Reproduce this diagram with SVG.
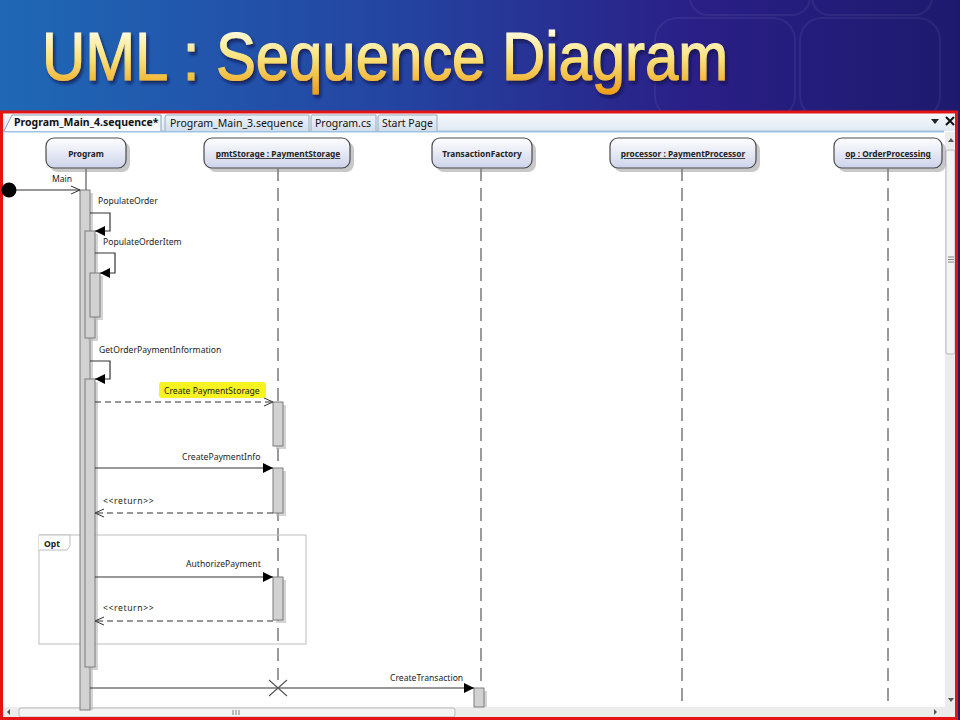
<svg xmlns="http://www.w3.org/2000/svg" width="960" height="720" viewBox="0 0 960 720">
<defs>
<linearGradient id="bg" x1="0" y1="0" x2="1" y2="0">
<stop offset="0" stop-color="#1f68b6"/>
<stop offset="0.4" stop-color="#2445a2"/>
<stop offset="0.72" stop-color="#2a1f86"/>
<stop offset="1" stop-color="#1d1a6e"/>
</linearGradient>
<linearGradient id="titleg" gradientUnits="userSpaceOnUse" x1="0" y1="30" x2="0" y2="92">
<stop offset="0" stop-color="#fffce0"/>
<stop offset="0.45" stop-color="#fbe27a"/>
<stop offset="1" stop-color="#eea21c"/>
</linearGradient>
<linearGradient id="nodeg" x1="0" y1="0" x2="0" y2="1">
<stop offset="0" stop-color="#ffffff"/>
<stop offset="1" stop-color="#cdd3ea"/>
</linearGradient>
<linearGradient id="tabbar" x1="0" y1="0" x2="0" y2="1">
<stop offset="0" stop-color="#f6f9fc"/>
<stop offset="1" stop-color="#e1e9f3"/>
</linearGradient>
<linearGradient id="tabin" x1="0" y1="0" x2="0" y2="1">
<stop offset="0" stop-color="#eef3f9"/>
<stop offset="1" stop-color="#d3deec"/>
</linearGradient>
<filter id="tshadow" x="-5%" y="-20%" width="110%" height="150%">
<feDropShadow dx="2" dy="3" stdDeviation="1.5" flood-color="#140c40" flood-opacity="0.7"/>
</filter>
<marker id="afill" markerWidth="11" markerHeight="10" refX="10" refY="5" orient="auto" markerUnits="userSpaceOnUse">
<path d="M0,0 L10,5 L0,10 z" fill="#000"/>
</marker>
<marker id="aopen" markerWidth="11" markerHeight="10" refX="10" refY="5" orient="auto" markerUnits="userSpaceOnUse">
<path d="M1,1 L10,5 L1,9" fill="none" stroke="#333" stroke-width="1"/>
</marker>
<style>
.node{fill:url(#nodeg);stroke:#4a4a4a;stroke-width:1.2}
.shadow{fill:#9a9a9a;opacity:0.55}
.nlab{font-family:"Noto Sans","DejaVu Sans",sans-serif;font-size:8.3px;font-weight:bold;fill:#222;text-anchor:middle}
.ul{text-decoration:underline}
.life{stroke:#7a7a7a;stroke-width:1.5;stroke-dasharray:13 7;fill:none}
.act{fill:#d2d2d2;stroke:#7c7c7c;stroke-width:1}
.actsh{fill:#b8b8b8;opacity:0.6}
.msg{stroke:#333;stroke-width:1.2;fill:none}
.call{marker-end:url(#afill)}
.ret{stroke-dasharray:6 4;marker-end:url(#aopen)}
.mlab{font-family:"Noto Sans","DejaVu Sans",sans-serif;font-size:8.6px;fill:#222}
.tab{font-family:"Noto Sans","DejaVu Sans",sans-serif;font-size:10.5px;fill:#111}
</style>
</defs>

<!-- slide background -->
<rect x="0" y="0" width="960" height="720" fill="url(#bg)"/>
<g fill="none" stroke="#ffffff" stroke-opacity="0.06" stroke-width="2">
<rect x="655" y="18" width="140" height="100" rx="22"/>
<rect x="800" y="18" width="140" height="100" rx="22"/>
<rect x="690" y="-30" width="120" height="45" rx="18"/>
<rect x="812" y="-30" width="120" height="45" rx="18"/>
</g>
<text x="42" y="80" font-family="Liberation Sans, Arial, sans-serif" font-size="68" textLength="686" lengthAdjust="spacingAndGlyphs" fill="url(#titleg)" stroke="url(#titleg)" stroke-width="1.2" filter="url(#tshadow)">UML : Sequence Diagram</text>

<!-- editor window -->
<rect x="2" y="112" width="955" height="606" fill="#ffffff"/>
<rect x="2" y="113" width="955" height="18" fill="url(#tabbar)"/>
<line x1="2" y1="131.5" x2="944" y2="131.5" stroke="#9fc2e2" stroke-width="2"/>
<path d="M165,131 L165,117 Q165,115 167,115 L309,115 L309,131" fill="url(#tabin)" stroke="#9aaabd" stroke-width="1"/>
<path d="M311,131 L311,117 Q311,115 313,115 L376,115 L376,131" fill="url(#tabin)" stroke="#9aaabd" stroke-width="1"/>
<path d="M378,131 L378,117 Q378,115 380,115 L437,115 L437,131" fill="url(#tabin)" stroke="#9aaabd" stroke-width="1"/>
<path d="M4,131 L12,115 L161,115 L161,131" fill="#f9fbfe" stroke="#8d9fb4" stroke-width="1"/>
<text class="tab" x="14" y="126" font-weight="bold" font-size="10px">Program_Main_4.sequence*</text>
<text class="tab" x="170" y="127">Program_Main_3.sequence</text>
<text class="tab" x="315" y="127">Program.cs</text>
<text class="tab" x="382" y="127">Start Page</text>
<path d="M931,119 L939,119 L935,124 z" fill="#222"/>
<path d="M946,117 L954,125 M954,117 L946,125" stroke="#111" stroke-width="2"/>

<!-- vertical scrollbar -->
<rect x="945" y="132" width="11" height="575" fill="#ececec"/>
<path d="M948,142 L951,138 L954,142 z" fill="#555"/>
<rect x="946" y="150" width="9" height="204" rx="2" fill="#f4f4f4" stroke="#b9b9b9"/>
<path d="M948,257 h6 M948,259.5 h6 M948,262 h6" stroke="#666" stroke-width="0.8"/>
<path d="M948,698 L951,702 L954,698 z" fill="#555"/>
<!-- horizontal scrollbar -->
<rect x="3" y="707" width="953" height="10" fill="#ececec"/>
<path d="M10,709 L7,712 L10,715 z" fill="#555"/>
<rect x="19" y="708" width="436" height="9" rx="2" fill="#f4f4f4" stroke="#b9b9b9"/>
<path d="M233,710 v5 M236,710 v5 M239,710 v5" stroke="#666" stroke-width="0.8"/>
<path d="M934,709 L937,712 L934,715 z" fill="#555"/>

<!-- red frame -->
<rect x="1.5" y="112" width="955" height="606.5" fill="none" stroke="#e41414" stroke-width="3"/>

<!-- nodes -->
<g id="node-program">
<rect class="shadow" x="50" y="142" width="80" height="30" rx="8"/>
<rect class="node" x="46" y="138" width="80" height="30" rx="8"/>
<text class="nlab" x="86" y="157">Program</text>
</g>
<g id="node-pmtStorage">
<rect class="shadow" x="208" y="142" width="146" height="30" rx="8"/>
<rect class="node" x="204" y="138" width="146" height="30" rx="8"/>
<text class="nlab ul" x="278" y="157">pmtStorage : PaymentStorage</text>
</g>
<g id="node-transactionFactory">
<rect class="shadow" x="436" y="142" width="100" height="30" rx="8"/>
<rect class="node" x="432" y="138" width="100" height="30" rx="8"/>
<text class="nlab" x="482" y="157">TransactionFactory</text>
</g>
<g id="node-processor">
<rect class="shadow" x="614" y="142" width="146" height="30" rx="8"/>
<rect class="node" x="610" y="138" width="146" height="30" rx="8"/>
<text class="nlab ul" x="683" y="157">processor : PaymentProcessor</text>
</g>
<g id="node-op">
<rect class="shadow" x="838" y="142" width="108" height="30" rx="8"/>
<rect class="node" x="834" y="138" width="108" height="30" rx="8"/>
<text class="nlab ul" x="888" y="157">op : OrderProcessing</text>
</g>

<!-- lifelines -->
<g id="lifelines">
<line x1="86" y1="168" x2="86" y2="190" stroke="#7a7a7a" stroke-width="1.5"/>
<line class="life" x1="278" y1="168" x2="278" y2="680"/>
<line class="life" x1="481" y1="168" x2="481" y2="688"/>
<line class="life" x1="682" y1="168" x2="682" y2="703"/>
<line class="life" x1="888" y1="168" x2="888" y2="703"/>
</g>

<!-- opt fragment -->
<g id="frame-opt">
<rect x="39" y="535" width="267" height="109" fill="none" stroke="#bdbdbd" stroke-width="1"/>
<path d="M39,535 L70,535 L70,546 L67,550 L39,550" fill="#ffffff" stroke="#bdbdbd" stroke-width="1"/>
<text x="44" y="547" font-family="Noto Sans, DejaVu Sans, sans-serif" font-size="8.6" font-weight="bold" fill="#222">Opt</text>
</g>

<!-- activations -->
<g id="activations">
<rect class="actsh" x="83" y="193" width="10" height="517"/>
<rect class="act" x="80" y="190" width="10" height="520"/>
<rect class="actsh" x="88" y="234" width="10" height="107"/>
<rect class="act" x="85" y="231" width="10" height="107"/>
<rect class="actsh" x="93" y="276" width="10" height="44"/>
<rect class="act" x="90" y="273" width="10" height="44"/>
<rect class="actsh" x="88" y="382" width="10" height="288"/>
<rect class="act" x="85" y="379" width="10" height="288"/>
<rect class="actsh" x="276" y="405" width="10" height="44"/>
<rect class="act" x="273" y="402" width="10" height="44"/>
<rect class="actsh" x="276" y="471" width="10" height="45"/>
<rect class="act" x="273" y="468" width="10" height="45"/>
<rect class="actsh" x="276" y="580" width="10" height="43"/>
<rect class="act" x="273" y="577" width="10" height="43"/>
<rect class="actsh" x="477" y="691" width="10" height="16"/>
<rect class="act" x="474" y="688" width="10" height="19"/>
</g>

<!-- connectors -->
<g id="connectors">
<circle cx="9" cy="190" r="7.5" fill="#000"/>
<line class="msg" x1="16" y1="190" x2="80" y2="190" marker-end="url(#aopen)"/>
<text class="mlab" x="52" y="182">Main</text>

<path class="msg call" d="M90,213 H110 V231 H95"/>
<text class="mlab" x="98" y="204">PopulateOrder</text>

<path class="msg call" d="M95,253 H115 V273 H100"/>
<text class="mlab" x="103" y="245">PopulateOrderItem</text>

<path class="msg call" d="M90,361 H110 V379 H95"/>
<text class="mlab" x="99" y="353">GetOrderPaymentInformation</text>

<rect x="159" y="382" width="107" height="16" rx="3" fill="#f6f320"/>
<text class="mlab" x="164" y="394">Create PaymentStorage</text>
<line class="msg ret" x1="95" y1="402" x2="273" y2="402"/>

<text class="mlab" x="182" y="460">CreatePaymentInfo</text>
<line class="msg call" x1="95" y1="468" x2="273" y2="468"/>

<text class="mlab" x="103" y="504" letter-spacing="0.6">&lt;&lt;return&gt;&gt;</text>
<line class="msg ret" x1="273" y1="513" x2="95" y2="513"/>

<text class="mlab" x="186" y="567">AuthorizePayment</text>
<line class="msg call" x1="95" y1="577" x2="273" y2="577"/>

<text class="mlab" x="103" y="611" letter-spacing="0.6">&lt;&lt;return&gt;&gt;</text>
<line class="msg ret" x1="273" y1="621" x2="95" y2="621"/>

<text class="mlab" x="390" y="681">CreateTransaction</text>
<line class="msg call" x1="90" y1="688" x2="474" y2="688"/>

<path d="M269,680 L287,696 M287,680 L269,696" stroke="#555" stroke-width="1.2"/>
</g>
</svg>
